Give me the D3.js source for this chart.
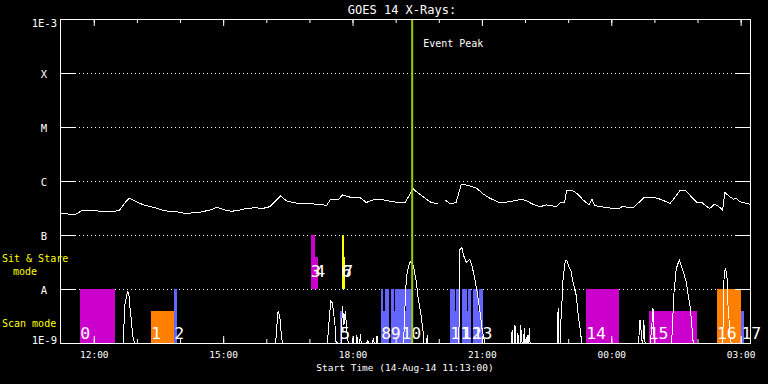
<!DOCTYPE html>
<html>
<head>
<meta charset="utf-8">
<script src="https://cdn.jsdelivr.net/npm/d3@7"></script>
<style>
  html, body { margin: 0; padding: 0; background: #000; }
  svg { display: block; }
  text { font-family: "DejaVu Sans Mono", monospace; }
</style>
</head>
<body>
<div id="chart"></div>
<script>
// --- data ---
const startTime = new Date(2014, 7, 14, 11, 13, 0)
const spanMinutes = 960
const eventPeak = new Date(2014, 7, 14, 19, 23, 0)

const levelNames = ['1E-9', 'A', 'B', 'C', 'M', 'X', '1E-3']
const levelFlux = [1e-9, 1e-8, 1e-7, 1e-6, 1e-5, 1e-4, 1e-3]

// long channel (1-8 A), minutes after start; null = data gap
const longMin = [0, 21, 28, 32, 42, 56, 76, 83, 90, 96, 102, 111, 118, 132, 146, 167, 174, 195, 209, 218,
  230, 239, 250, 260, 271, 282, 292, 299, 307, 315, 324, 334, 343, 357, 371, 376, 383, 387, 393, 404,
  417, 426, 436, 450, 464, 480, 486, 491, 496, 506, 515, 526, 531, 536, 543, 551, 558, 561, 570, 580,
  589, 598, 612, 626, 642, 649, 659, 668, 677, 691, 696, 702, 705, 712, 719, 728, 736, 740, 744, 761,
  777, 782, 798, 812, 826, 835, 849, 863, 870, 879, 886, 893, 900, 904, 911, 918, 922, 925, 932, 937,
  941, 946, 960]
const longFlux = [2.5e-7, 2.4e-7, 2.7e-7, 2.9e-7, 2.9e-7, 2.75e-7, 2.75e-7, 2.9e-7, 3.9e-7, 4.8e-7,
  4.45e-7, 3.85e-7, 3.55e-7, 3.2e-7, 2.8e-7, 2.65e-7, 2.5e-7, 2.65e-7, 2.9e-7, 3.25e-7,
  2.9e-7, 2.75e-7, 2.9e-7, 3.1e-7, 3.2e-7, 3.1e-7, 3.35e-7, 4.15e-7, 5.3e-7, 4.3e-7,
  4.0e-7, 3.8e-7, 3.9e-7, 3.7e-7, 3.55e-7, 4.45e-7, 4.6e-7, 4.45e-7, 5.5e-7, 5.0e-7,
  5.0e-7, 4.0e-7, 4.5e-7, 4.45e-7, 4.1e-7, 4.0e-7, 5.4e-7, 7.3e-7, 6.3e-7, 5.0e-7,
  4.1e-7, 3.75e-7, null, 4.45e-7, 3.75e-7, 4.0e-7, 8.4e-7, 8.7e-7, 8.1e-7, 7.3e-7,
  5.7e-7, 4.8e-7, 3.95e-7, 4.15e-7, 4.6e-7, 4.3e-7, 3.65e-7, 3.35e-7, 3.6e-7, 3.35e-7,
  4.0e-7, 4.0e-7, 6.8e-7, 6.8e-7, 5.9e-7, 4.45e-7, 3.6e-7, 4.6e-7, 3.5e-7, 3.2e-7,
  3.05e-7, 3.35e-7, 3.2e-7, 4.9e-7, 5.0e-7, 4.6e-7, 3.85e-7, 6.8e-7, 6.8e-7, 5.0e-7,
  4.0e-7, 4.0e-7, 3.35e-7, 3.1e-7, 3.75e-7, 3.25e-7, 2.9e-7, 6.1e-7, 5.1e-7, 4.6e-7,
  4.8e-7, 4.15e-7, 3.7e-7]

// short channel (0.5-4 A), mostly under 1E-9
const shortMin = [0, 88, 90, 93, 94, 96, 97, 99, 101, 103, 104,
  300, 303, 304, 306, 307, 309, 310,
  372, 375, 377, 379, 381, 383, 384, 386,
  391, 393, 395, 397, 399, 401,
  407, 408, 409, 412, 413, 414, 417, 418, 419, 427, 428, 429, 435, 436, 437, 440, 441, 442,
  478, 480, 482, 486, 488, 492, 496, 498, 502, 505, 506, 510, 511, 512,
  555, 556, 559, 561, 565, 570, 573, 576, 580, 582, 585, 587, 589, 591,
  628, 629, 630, 632, 633, 634, 636, 637, 638, 640, 641, 642, 643, 645, 646, 647, 649, 650, 651, 652, 653, 654,
  692, 693, 694, 696, 697, 698, 700, 703, 705, 707, 711, 714, 718, 721, 724, 726,
  805, 806, 807, 809, 810, 811, 812, 813, 814, 821, 823, 825, 826, 827,
  851, 854, 857, 859, 862, 864, 867, 871, 874, 877, 879, 881,
  922, 924, 926, 928, 929, 931, 932, 934, 960]
const shortFlux = [5e-10, 5e-10, 4.8e-9, 7.8e-9, 9.3e-9, 7.3e-9, 5.1e-9, 2.9e-9, 1.4e-9, 1.07e-9, 5e-10,
  5e-10, 3.6e-9, 3.75e-9, 2.9e-9, 1.9e-9, 1.09e-9, 5e-10,
  5e-10, 3.3e-9, 6.1e-9, 5.5e-9, 3.3e-9, 1.9e-9, 1.07e-9, 5e-10,
  5e-10, 4.8e-9, 2.15e-9, 3.9e-9, 1.74e-9, 5e-10,
  5e-10, 1.35e-9, 5e-10, 5e-10, 1.4e-9, 5e-10, 5e-10, 1.47e-9, 5e-10, 5e-10, 1.14e-9, 5e-10, 5e-10, 1.24e-9, 5e-10, 5e-10, 1.35e-9, 5e-10,
  5e-10, 4.7e-9, 1.7e-8, 3.0e-8, 3.2e-8, 2.6e-8, 1.28e-8, 7.2e-9, 3.55e-9, 1.74e-9, 5e-10, 5e-10, 1.4e-9, 5e-10,
  5e-10, 5.3e-8, 5.9e-8, 4.4e-8, 3.1e-8, 3.5e-8, 2.8e-8, 1.8e-8, 9.6e-9, 6.2e-9, 3.2e-9, 1.9e-9, 1.35e-9, 5e-10,
  5e-10, 1.74e-9, 5e-10, 5e-10, 2.15e-9, 5e-10, 5e-10, 1.53e-9, 5e-10, 5e-10, 2.18e-9, 1.24e-9, 5e-10, 5e-10, 1.9e-9, 5e-10, 5e-10, 1.4e-9, 5e-10, 5e-10, 1.9e-9, 5e-10,
  5e-10, 4.45e-9, 5e-10, 5e-10, 2.67e-9, 4.45e-9, 1.6e-8, 3.26e-8, 3.44e-8, 2.82e-8, 2.13e-8, 1.29e-8, 7.84e-9, 3.34e-9, 1.65e-9, 5e-10,
  5e-10, 1.74e-9, 2.67e-9, 1.41e-9, 5e-10, 5e-10, 2.7e-9, 1.74e-9, 5e-10, 5e-10, 1.74e-9, 4.45e-9, 1.74e-9, 5e-10,
  5e-10, 7.84e-9, 2.13e-8, 2.82e-8, 3.4e-8, 2.82e-8, 2.13e-8, 1.39e-8, 7.84e-9, 4.45e-9, 2.18e-9, 5e-10,
  5e-10, 1.84e-8, 2.45e-8, 1.6e-8, 5.9e-9, 2.52e-9, 1.24e-9, 5e-10, 5e-10]

// observations: minutes after start, mode, instrument, filled fraction of band
const obsId = [0, 1, 2, 3, 4, 5, 6, 7, 8, 9, 10, 11, 12, 13, 14, 15, 16, 17]
const obsStart = [28, 127, 159, 349, 355, 390, 392, 394, 447, 460, 475, 543, 559, 574, 732, 819, 914, 948]
const obsEnd = [77, 159, 163, 355, 359, 393, 395, 397, 458, 474, 490, 557, 572, 588, 778, 886, 948, 951]
const obsMode = ['scan', 'scan', 'scan', 'sit', 'sit', 'scan', 'sit', 'sit', 'scan', 'scan',
  'scan', 'scan', 'scan', 'scan', 'scan', 'scan', 'scan', 'scan']
const obsInst = ['a', 'b', 'c', 'a', 'a', 'c', 'd', 'd', 'c', 'c', 'c', 'c', 'c', 'c', 'a', 'a', 'b', 'c']
const obsFill = [1, 0.6, 1, 1, 0.6, 0.6, 1, 0.6, 1, 1, 1, 1, 1, 1, 1, 0.6, 1, 0.6]
// short breaks inside the raster observations
const gapStart = [450, 464, 480, 549, 566, 581]
const gapEnd = [452, 466, 482, 551, 568, 583]

// --- chart ---
const W = 768, H = 384
const plotL = 60, plotR = 750, plotT = 19, plotB = 343

const at = m => new Date(startTime.getTime() + m * 60000)

const x = d3.scaleTime()
    .domain([startTime, at(spanMinutes)])
    .range([plotL, plotR])
const y = d3.scaleLog()
    .domain([1e-9, 1e-3])
    .range([plotB, plotT])
    .clamp(true)
const instColor = d3.scaleOrdinal()
    .domain(['a', 'b', 'c', 'd'])
    .range(['#cc00cc', '#ff8000', '#6464ff', '#ffff00'])
const bandFloor = {scan: -9, sit: -8}

const svg = d3.select('#chart').append('svg')
    .attr('width', W)
    .attr('height', H)
svg.append('rect').attr('width', W).attr('height', H).attr('fill', '#000')

svg.append('defs').append('clipPath').attr('id', 'plot')
    .append('rect')
    .attr('x', plotL).attr('y', plotT)
    .attr('width', plotR - plotL).attr('height', plotB - plotT)

// dotted grid at the flare classes
svg.append('g')
    .selectAll('line')
    .data(levelFlux.slice(1, -1))
    .join('line')
    .attr('x1', plotL + 15).attr('x2', plotR - 15)
    .attr('y1', d => y(d) + 0.5).attr('y2', d => y(d) + 0.5)
    .attr('stroke', '#fff')
    .attr('stroke-dasharray', '1,3')

// observation bars
const obs = obsId.map((id, i) => ({
    id, start: at(obsStart[i]), end: at(obsEnd[i]),
    mode: obsMode[i], inst: obsInst[i], fill: obsFill[i]
}))
svg.append('g')
    .selectAll('rect')
    .data(obs)
    .join('rect')
    .attr('x', d => x(d.start))
    .attr('width', d => x(d.end) - x(d.start))
    .attr('y', d => y(Math.pow(10, bandFloor[d.mode] + d.fill)))
    .attr('height', d => y(Math.pow(10, bandFloor[d.mode])) - y(Math.pow(10, bandFloor[d.mode] + d.fill)))
    .attr('fill', d => instColor(d.inst))
    .attr('shape-rendering', 'crispEdges')

svg.append('g')
    .selectAll('rect')
    .data(gapStart.map((s, i) => ({start: at(s), end: at(gapEnd[i])})))
    .join('rect')
    .attr('x', d => x(d.start))
    .attr('width', d => x(d.end) - x(d.start))
    .attr('y', y(1e-8))
    .attr('height', y(Math.pow(10, -9 + 0.6)) - y(1e-8))
    .attr('fill', '#000')
    .attr('shape-rendering', 'crispEdges')

svg.append('g')
    .selectAll('text')
    .data(obs)
    .join('text')
    .attr('x', d => x(d.start))
    .attr('y', d => d.mode === 'scan' ? y(1e-9) - 4 : y(1e-8) - 12)
    .attr('fill', '#fff')
    .attr('font-size', 16.5)
    .text(d => d.id)

// flux curves
const curves = svg.append('g').attr('clip-path', 'url(#plot)')
const line = d3.line()
    .defined(d => d.f != null)
    .x(d => x(d.t))
    .y(d => y(d.f))

curves.append('path')
    .datum(shortMin.map((m, i) => ({t: at(m), f: shortFlux[i]})))
    .attr('d', line)
    .attr('fill', 'none')
    .attr('stroke', '#fff')
    .attr('stroke-width', 1)
    .attr('shape-rendering', 'crispEdges')

curves.append('path')
    .datum(longMin.map((m, i) => ({t: at(m), f: longFlux[i]})))
    .attr('d', line)
    .attr('fill', 'none')
    .attr('stroke', '#fff')
    .attr('stroke-width', 1)
    .attr('shape-rendering', 'crispEdges')

// event peak marker
svg.append('line')
    .attr('x1', x(eventPeak)).attr('x2', x(eventPeak))
    .attr('y1', plotT).attr('y2', plotB)
    .attr('stroke', '#99cc00')
    .attr('stroke-width', 2)
svg.append('text')
    .attr('x', x(eventPeak) + 11)
    .attr('y', 47)
    .attr('fill', '#fff')
    .attr('font-size', 10)
    .text('Event Peak')

// axes
function whiteAxis(g) {
    g.selectAll('path, line').attr('stroke', '#fff')
    g.selectAll('text').attr('fill', '#fff')
    g.attr('font-family', '"DejaVu Sans Mono", monospace').attr('font-size', 9.5)
}
const hours3 = d3.timeHour.every(3)
const hours1 = d3.timeHour.every(1)

svg.append('g').attr('transform', `translate(0,${plotB})`)
    .call(d3.axisBottom(x).ticks(hours1).tickSize(-4).tickFormat(''))
    .call(whiteAxis)
svg.append('g').attr('transform', `translate(0,${plotB})`)
    .call(d3.axisBottom(x).ticks(hours3).tickFormat(d3.timeFormat('%H:%M'))
        .tickSizeInner(-7).tickSizeOuter(0).tickPadding(8))
    .call(whiteAxis)
svg.append('g').attr('transform', `translate(0,${plotT})`)
    .call(d3.axisTop(x).ticks(hours1).tickSize(-4).tickFormat(''))
    .call(whiteAxis)
svg.append('g').attr('transform', `translate(0,${plotT})`)
    .call(d3.axisTop(x).ticks(hours3).tickSize(-7).tickFormat(''))
    .call(whiteAxis)
svg.append('g').attr('transform', `translate(${plotL},0)`)
    .call(d3.axisLeft(y).tickValues(levelFlux).tickSize(-15).tickFormat(''))
    .call(whiteAxis)
svg.append('g').attr('transform', `translate(${plotR},0)`)
    .call(d3.axisRight(y).tickValues(levelFlux).tickSize(-15).tickFormat(''))
    .call(whiteAxis)

// class labels on the left
svg.append('g')
    .selectAll('text')
    .data(levelFlux)
    .join('text')
    .attr('x', (d, i) => levelNames[i].length > 1 ? plotL - 3 : plotL - 16)
    .attr('y', (d, i) => i === 0 ? y(d) + 1 : i === levelFlux.length - 1 ? y(d) + 8 : y(d) + 5)
    .attr('text-anchor', (d, i) => levelNames[i].length > 1 ? 'end' : 'middle')
    .attr('fill', '#fff')
    .attr('font-size', 10.5)
    .text((d, i) => levelNames[i])

// mode labels
const modeLabels = svg.append('g').attr('fill', '#ffff00').attr('font-size', 10)
modeLabels.append('text').attr('x', 2).attr('y', 262).text('Sit & Stare')
modeLabels.append('text').attr('x', 13).attr('y', 275).text('mode')
modeLabels.append('text').attr('x', 2).attr('y', 327).text('Scan mode')

svg.append('text')
    .attr('x', (plotL + plotR) / 2 - 3)
    .attr('y', 13.5)
    .attr('text-anchor', 'middle')
    .attr('fill', '#fff')
    .attr('font-size', 12)
    .text('GOES 14 X-Rays:')

svg.append('text')
    .attr('x', (plotL + plotR) / 2)
    .attr('y', 371)
    .attr('text-anchor', 'middle')
    .attr('fill', '#fff')
    .attr('font-size', 9.5)
    .text('Start Time (14-Aug-14 11:13:00)')
</script>
</body>
</html>
